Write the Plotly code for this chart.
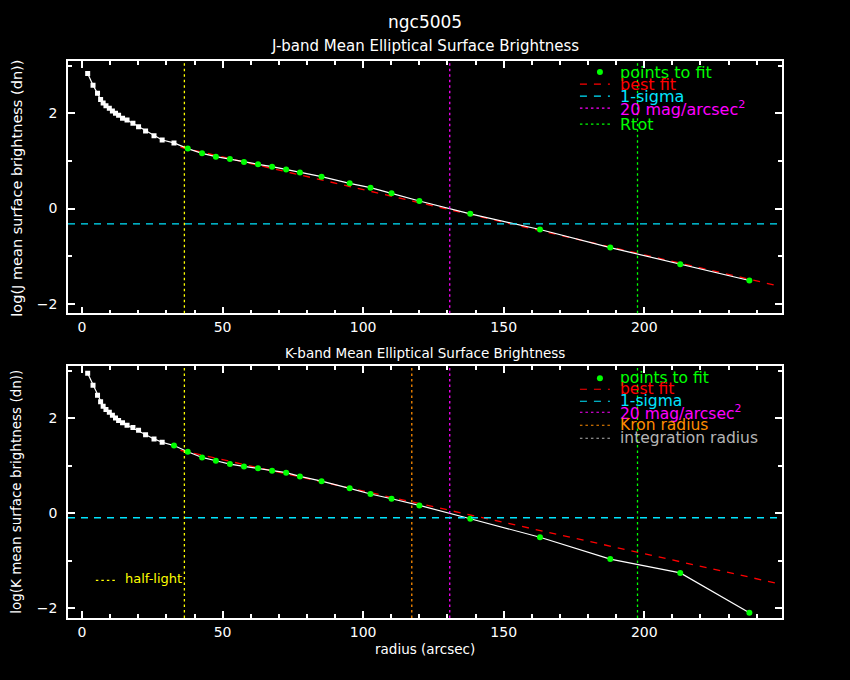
import plotly.graph_objects as go
from plotly.subplots import make_subplots

# radius of each elliptical annulus (arcsec), shared by both bands
radius = [2.0, 3.9, 5.5, 6.6, 7.5, 8.5, 9.7, 10.8, 11.9, 13.0, 14.4, 16.0, 18.1,
          20.1, 22.6, 25.6, 28.5, 32.7, 37.6, 42.7, 47.6, 52.6, 57.6, 62.6, 67.6,
          72.6, 77.5, 85.2, 95.2, 102.6, 110.1, 120.0, 138.1, 162.9, 187.9, 212.8, 237.4]

# log mean surface brightness (dn)
j_logsb = [2.84, 2.59, 2.42, 2.29, 2.22, 2.16, 2.11, 2.05, 2.00, 1.96, 1.90, 1.86, 1.79,
           1.72, 1.63, 1.53, 1.44, 1.38, 1.26, 1.16, 1.09, 1.04, 0.98, 0.93, 0.88,
           0.82, 0.76, 0.67, 0.53, 0.44, 0.32, 0.16, -0.11, -0.44, -0.82, -1.17, -1.51]
k_logsb = [2.95, 2.70, 2.49, 2.35, 2.26, 2.19, 2.13, 2.07, 2.01, 1.96, 1.91, 1.86, 1.81,
           1.75, 1.66, 1.57, 1.50, 1.43, 1.30, 1.18, 1.11, 1.04, 0.99, 0.95, 0.90,
           0.86, 0.78, 0.68, 0.53, 0.41, 0.31, 0.17, -0.11, -0.50, -0.96, -1.25, -2.09]

# first annulus used in the fit
j_fit_start = 18
k_fit_start = 17

# best fit lines (end points)
j_fit_r = [35.0, 248.0]
j_fit_y = [1.29, -1.63]
k_fit_r = [35.0, 248.0]
k_fit_y = [1.33, -1.48]

# reference levels / radii
j_sigma = -0.32
k_sigma = -0.09
half_light = 36.4
mag20_r = 130.8
rtot = 197.6
kron_r = 117.3

XRANGE = [-5, 249]
YRANGE = [-2.2, 3.1]

GREEN = "#00ff00"
RED = "#ff0000"
CYAN = "#00e5ff"
MAGENTA = "#ff00ff"
YELLOW = "#ffff00"
ORANGE = "#ff8c00"
GREY = "#b4b4b4"
FONT = "DejaVu Sans"
DOTS = "2.5px,3px"

fig = make_subplots(rows=2, cols=1, vertical_spacing=0.095)
shapes = []
ann = []


def add_panel(row, logsb, fit_start, fit_r, fit_y, sigma, vlines):
    xr = "x" if row == 1 else "x2"
    yr = "y" if row == 1 else "y2"
    for xv, col in vlines:
        shapes.append(dict(type="line", xref=xr, yref=yr + " domain", x0=xv, x1=xv, y0=0, y1=1,
                           line=dict(color=col, width=1.3, dash=DOTS)))
    shapes.append(dict(type="line", xref=xr + " domain", yref=yr, x0=0, x1=1, y0=sigma, y1=sigma,
                       line=dict(color=CYAN, width=1.3, dash="7px,6px")))
    fig.add_trace(go.Scatter(x=fit_r, y=fit_y, mode="lines",
                             line=dict(color=RED, width=1.3, dash="7px,7px"),
                             showlegend=False), row=row, col=1)
    fig.add_trace(go.Scatter(x=radius, y=logsb, mode="lines",
                             line=dict(color="white", width=1.2),
                             showlegend=False), row=row, col=1)
    fig.add_trace(go.Scatter(x=radius[:fit_start], y=logsb[:fit_start], mode="markers",
                             marker=dict(color="white", size=5, symbol="square"),
                             showlegend=False), row=row, col=1)
    fig.add_trace(go.Scatter(x=radius[fit_start:], y=logsb[fit_start:], mode="markers",
                             marker=dict(color=GREEN, size=6),
                             showlegend=False), row=row, col=1)


add_panel(1, j_logsb, j_fit_start, j_fit_r, j_fit_y, j_sigma,
          [(half_light, YELLOW), (mag20_r, MAGENTA), (rtot, GREEN)])
add_panel(2, k_logsb, k_fit_start, k_fit_r, k_fit_y, k_sigma,
          [(half_light, YELLOW), (kron_r, ORANGE), (mag20_r, MAGENTA), (rtot, GREEN)])

axis_style = dict(showgrid=False, zeroline=False, showline=True, linecolor="white",
                  linewidth=1.5, mirror="ticks", ticks="inside", ticklen=7,
                  tickcolor="white", tickwidth=1.5,
                  tickfont=dict(family=FONT, size=14, color="white"))
fig.update_xaxes(range=XRANGE, dtick=50, tick0=0,
                 minor=dict(dtick=10, ticks="inside", ticklen=4, tickcolor="white"),
                 **axis_style)
fig.update_yaxes(range=YRANGE, dtick=2, tick0=0, ticklabelstandoff=6,
                 minor=dict(dtick=1, ticks="inside", ticklen=4, tickcolor="white"),
                 **axis_style)

fig.update_layout(
    width=850, height=680,
    paper_bgcolor="black", plot_bgcolor="black",
    margin=dict(l=68, r=68, t=61, b=62),
    showlegend=False,
    font=dict(family=FONT, color="white"),
)
fig.update_yaxes(domain=[0.547, 1.0], row=1, col=1)
fig.update_yaxes(domain=[0.0, 0.452], row=2, col=1)


def text(x, y, s, size, color="white", angle=0):
    ann.append(dict(x=x, y=y, xref="paper", yref="paper", text=s, showarrow=False,
                    xanchor="center", yanchor="middle", textangle=angle,
                    font=dict(family=FONT, size=size, color=color)))


def py(ypx):
    return (617.7 - ypx) / 556.7


text(0.5, py(22), "ngc5005", 17)
text(0.5, py(46), "J-band Mean Elliptical Surface Brightness", 15)
text(0.5, py(353), "K-band Mean Elliptical Surface Brightness", 13.5)
text(0.5, py(649), "radius (arcsec)", 13.5)
text(-0.072, py(188), "log(J mean surface brightness (dn))", 14.5, angle=-90)
text(-0.072, py(492), "log(K mean surface brightness (dn))", 13.5, angle=-90)


def ydom(ypx, top, bottom):
    return (bottom - ypx) / (bottom - top)


def legend(xd, yd, label, color, kind, row, size=15.5):
    xr = "x" if row == 1 else "x2"
    yr = "y" if row == 1 else "y2"
    if kind == "dot":
        fig.add_trace(go.Scatter(x=[XRANGE[0] + (xd - 0.026) * (XRANGE[1] - XRANGE[0])],
                                 y=[YRANGE[0] + yd * (YRANGE[1] - YRANGE[0])],
                                 mode="markers", marker=dict(color=color, size=6),
                                 showlegend=False, cliponaxis=False), row=row, col=1)
    else:
        dash = {"dash": "7px,7px", "dotted": DOTS}[kind]
        shapes.append(dict(type="line", xref=xr + " domain", yref=yr + " domain",
                           x0=xd - 0.054, x1=xd - 0.012, y0=yd, y1=yd,
                           line=dict(color=color, width=1.2, dash=dash)))
    ann.append(dict(x=xd, y=yd, xref=xr + " domain", yref=yr + " domain", text=label,
                    showarrow=False, xanchor="left", yanchor="middle",
                    font=dict(family=FONT, size=size, color=color)))


TOP1, BOT1 = 61.0, 313.0
TOP2, BOT2 = 366.0, 617.7
XL = 0.771

legend(XL, ydom(72, TOP1, BOT1), "points to fit", GREEN, "dot", 1, 16)
legend(XL, ydom(84, TOP1, BOT1), "best fit", RED, "dash", 1, 16)
legend(XL, ydom(96, TOP1, BOT1), "1-sigma", CYAN, "dash", 1, 16)
legend(XL, ydom(108, TOP1, BOT1), "20 mag/arcsec<sup>2</sup>", MAGENTA, "dotted", 1, 16)
legend(XL, ydom(124, TOP1, BOT1), "Rtot", GREEN, "dotted", 1, 16)

legend(XL, ydom(378, TOP2, BOT2), "points to fit", GREEN, "dot", 2)
legend(XL, ydom(389, TOP2, BOT2), "best fit", RED, "dash", 2)
legend(XL, ydom(401, TOP2, BOT2), "1-sigma", CYAN, "dash", 2)
legend(XL, ydom(412, TOP2, BOT2), "20 mag/arcsec<sup>2</sup>", MAGENTA, "dotted", 2)
legend(XL, ydom(425, TOP2, BOT2), "Kron radius", ORANGE, "dotted", 2)
legend(XL, ydom(438, TOP2, BOT2), "integration radius", GREY, "dotted", 2)

# half-light key in lower left of K panel
shapes.append(dict(type="line", xref="x2 domain", yref="y2 domain", x0=0.039, x1=0.069,
                   y0=ydom(580, TOP2, BOT2), y1=ydom(580, TOP2, BOT2),
                   line=dict(color=YELLOW, width=1.2, dash=DOTS)))
ann.append(dict(x=0.077, y=ydom(578, TOP2, BOT2), xref="x2 domain", yref="y2 domain",
                text="half-light", showarrow=False, xanchor="left", yanchor="middle",
                font=dict(family=FONT, size=13, color=YELLOW)))

fig.update_layout(annotations=ann, shapes=shapes)

fig.write_html("out.html", config={"displayModeBar": False},
               post_script="document.body.style.margin='0';"
               "document.body.style.background='black';")
